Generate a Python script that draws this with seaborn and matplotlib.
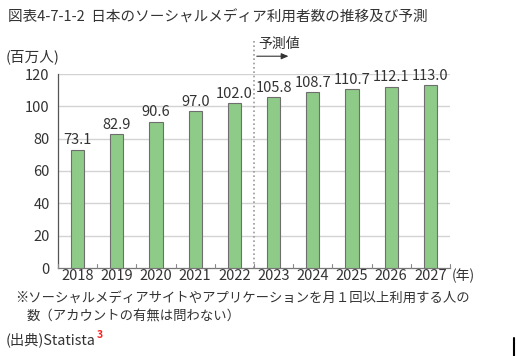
import matplotlib
matplotlib.use("Agg")
import matplotlib.pyplot as plt
import seaborn as sns
import pandas as pd

years = ["2018", "2019", "2020", "2021", "2022", "2023", "2024", "2025", "2026", "2027"]
users = [73.1, 82.9, 90.6, 97.0, 102.0, 105.8, 108.7, 110.7, 112.1, 113.0]
yticks = [0, 20, 40, 60, 80, 100, 120]

sns.set_theme(style="white")
plt.rcParams['font.family'] = ['Noto Sans CJK JP', 'DejaVu Sans']

df = pd.DataFrame({"year": years, "users": users})

fig = plt.figure(figsize=(5.17, 3.56), dpi=100)
W, H = 517, 356
ax = fig.add_axes([58 / W, 1 - 268 / H, (450 - 58) / W, (268 - 74) / H])

sns.barplot(data=df, x="year", y="users", ax=ax, color="#8fcb88", width=0.34,
            edgecolor="#6e6e6e", linewidth=0.8, saturation=1, zorder=3)

ax.set_ylim(0, 120)
ax.set_xlim(-0.5, len(years) - 0.5)
ax.set_yticks(yticks)
ax.set_yticklabels([str(v) for v in yticks], fontsize=10.5, color="#333333")
ax.tick_params(axis="y", length=0, pad=6)
ax.tick_params(axis="x", length=0, pad=1, labelsize=10.5, labelcolor="#333333")
ax.set_xlabel("")
ax.set_ylabel("")
for v in yticks[1:]:
    ax.axhline(v, color="#d3d3d3", lw=1.0, zorder=1)

for s in ["top", "right"]:
    ax.spines[s].set_visible(False)
ax.spines["left"].set_color("#555555")
ax.spines["left"].set_linewidth(0.9)
ax.spines["bottom"].set_color("#777777")
ax.spines["bottom"].set_linewidth(0.9)

# small upward ticks between categories
for i in range(len(years) + 1):
    ax.plot([i - 0.5, i - 0.5], [0, 2.2], color="#888888", lw=0.8, zorder=4, clip_on=False)

# value labels
for i, v in enumerate(users):
    ax.text(i, v + 1.5, f"{v:.1f}", ha="center", va="bottom", fontsize=10.5,
            color="#333333", zorder=5)

# forecast dotted line
ax.plot([4.5, 4.5], [0, 141], color="#999999", lw=1.2, ls=(0, (1, 1.6)),
        zorder=2, clip_on=False)
ax.annotate("", xy=(5.45, 131), xytext=(4.5, 131),
            arrowprops=dict(arrowstyle="-|>,head_length=0.35,head_width=0.15",
                            color="#333333", lw=0.8), annotation_clip=False)
ax.text(4.6, 134, "予測値", fontsize=10, color="#333333", ha="left", va="bottom")

fig.text(8 / W, 1 - 18 / H, "図表4-7-1-2  日本のソーシャルメディア利用者数の推移及び予測",
         fontsize=10.5, color="#333333", va="center", ha="left")
fig.text(6 / W, 1 - 57 / H, "(百万人)", fontsize=10.5, color="#333333", va="center", ha="left")
fig.text(452 / W, 1 - 276 / H, "(年)", fontsize=10, color="#333333", va="center", ha="left")
fig.text(15 / W, 1 - 298 / H, "※ソーシャルメディアサイトやアプリケーションを月１回以上利用する人の",
         fontsize=9.6, color="#333333", va="center", ha="left")
fig.text(27 / W, 1 - 317 / H, "数（アカウントの有無は問わない）",
         fontsize=9.6, color="#333333", va="center", ha="left")
src = fig.text(6 / W, 1 - 340 / H, "(出典)Statista", fontsize=10.3, color="#333333",
               va="center", ha="left")
fig.canvas.draw()
ax.annotate("3", xy=(1.0, 0.5), xycoords=src, xytext=(1, 0), textcoords="offset points",
            fontsize=7.5, color="#ff2020", weight="bold", va="bottom", ha="left",
            annotation_clip=False)
fig.add_artist(plt.Line2D([514 / W, 514 / W], [0, 18 / H], color="black", lw=1.5))

fig.savefig("out.png", dpi=100)
